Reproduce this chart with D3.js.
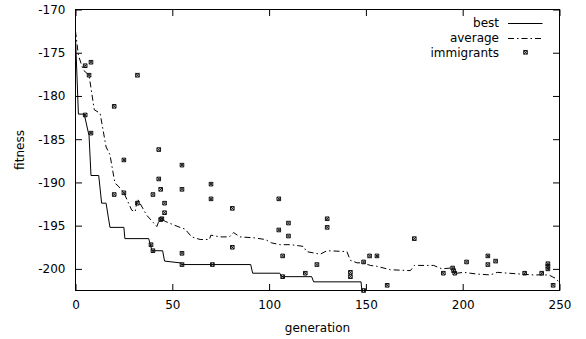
<!DOCTYPE html>
<html>
<head>
<meta charset="utf-8">
<script src="https://cdn.jsdelivr.net/npm/d3@7"></script>
<style>
  body { margin: 0; background: #fff; }
  text { font-family: "DejaVu Sans", sans-serif; fill: #000; }
</style>
</head>
<body>
<div id="chart"></div>
<script>
// best fitness per generation (step-like)
const bestGen = [0, 1.5, 4.5, 7, 8, 12, 13.5, 15.8, 17, 17.8, 25, 25.5, 37.8, 39.5, 45, 46, 54, 55, 90.5, 91.5, 105.5, 106.5, 122, 123, 147.5, 148, 250];
const bestVal = [-173.2, -182.1, -182.1, -184.6, -189.2, -189.2, -192.4, -192.4, -194.1, -195.2, -195.2, -196.5, -196.5, -197.9, -197.9, -199.1, -199.3, -199.5, -199.5, -200.5, -200.5, -200.9, -200.9, -201.5, -201.5, -202.7, -202.7];

// population average
const avgGen = [0, 1.5, 4, 7, 9.7, 12.7, 15.8, 17.8, 19.2, 20.4, 22, 25, 29, 30.8, 32, 36.8, 42, 43.7, 46.3, 50.6, 54, 56.6, 60, 64.4, 69.2, 69.9, 74.7, 79.5, 81.6, 85, 91.9, 98, 101.4, 105.7, 111, 117.8, 119.3, 126.4, 129.9, 140.2, 141.9, 145.4, 148.5, 152.3, 155.7, 162.6, 173, 175, 185, 189.3, 193.6, 197.1, 200.5, 207.4, 214.3, 217.8, 229.8, 236.7, 244.5, 246.2, 248, 250];
const avgVal = [-172.5, -175.3, -177, -177.6, -181.6, -182, -185.9, -186.8, -188.6, -190.1, -190.4, -191.2, -193.2, -193.4, -191.9, -193.8, -195.1, -194.1, -194.5, -194.9, -195.2, -195.4, -196.3, -196.6, -196.6, -196.1, -196.3, -196.3, -195.8, -196.3, -196.4, -196.6, -197, -197.2, -197.2, -197.4, -198, -198.3, -197.9, -198, -199, -199.3, -199.3, -199.6, -199.7, -200.1, -200.2, -199.6, -199.6, -200, -199.9, -200.5, -200.4, -200.6, -200.7, -200.4, -200.6, -200.7, -200.7, -200.9, -201.1, -201.6];

// immigrants
const immGen = [5, 8, 7, 32, 20, 5, 8, 43, 25, 55, 20, 25, 32, 40, 43, 44, 46, 46, 44, 44.6, 55, 55, 55, 39, 40, 70, 70, 81, 81, 70.7, 105, 105, 110, 110, 107, 107, 118.7, 124.7, 130, 130, 142, 142, 148.8, 151.9, 155.7, 161, 148.8, 175, 190, 194.8, 195.3, 195.9, 202, 213, 213, 217, 232, 240.8, 244, 244, 244, 246.7];
const immVal = [-176.5, -176.1, -177.6, -177.6, -181.2, -182.2, -184.3, -186.2, -187.4, -188, -191.4, -191.2, -192.4, -191.4, -189.6, -190.8, -192.4, -193.5, -194.3, -194.2, -190.8, -198.2, -199.5, -197.2, -197.9, -190.2, -191.9, -193, -197.5, -199.5, -191.9, -195.5, -194.7, -196.2, -198.5, -200.9, -200.5, -199.5, -194.2, -195.2, -200.4, -200.9, -199.2, -198.5, -198.5, -201.9, -202.5, -196.5, -200.5, -199.9, -200.2, -200.5, -199.2, -198.5, -199.5, -199.1, -200.5, -200.5, -199.4, -199.7, -200, -201.9];

const xTicks = [0, 50, 100, 150, 200, 250];
const yTicks = [-170, -175, -180, -185, -190, -195, -200];

const width = 586, height = 339;
const margin = {top: 9.5, right: 26.5, bottom: 48.5, left: 75.5};
const chartWidth = width - margin.left - margin.right;
const chartHeight = height - margin.top - margin.bottom;

const svg = d3.select('#chart')
  .append('svg')
  .attr('width', width)
  .attr('height', height);

const chart = svg.append('g')
  .attr('transform', `translate(${margin.left}, ${margin.top})`);

const scaleX = d3.scaleLinear().domain([0, 250]).range([0, chartWidth]);
const scaleY = d3.scaleLinear().domain([-202.5, -170]).range([chartHeight, 0]);

svg.append('defs').append('clipPath')
  .attr('id', 'clip')
  .append('rect')
  .attr('width', chartWidth)
  .attr('height', chartHeight);

// axes, ticks inward and mirrored (plain hyphen for negatives, like gnuplot)
const tickLen = 6.5;
const fmt = d => String(d);
chart.append('g')
  .attr('transform', `translate(0, ${chartHeight})`)
  .call(d3.axisBottom(scaleX).tickValues(xTicks).tickFormat(fmt).tickSizeInner(-tickLen).tickSizeOuter(0).tickPadding(10))
  .call(g => g.select('.domain').remove());
chart.append('g')
  .call(d3.axisTop(scaleX).tickValues(xTicks).tickSizeInner(-tickLen).tickSizeOuter(0).tickFormat(''))
  .call(g => g.select('.domain').remove());
chart.append('g')
  .call(d3.axisLeft(scaleY).tickValues(yTicks).tickFormat(fmt).tickSizeInner(-tickLen).tickSizeOuter(0).tickPadding(10))
  .call(g => g.select('.domain').remove());
chart.append('g')
  .attr('transform', `translate(${chartWidth}, 0)`)
  .call(d3.axisRight(scaleY).tickValues(yTicks).tickSizeInner(-tickLen).tickSizeOuter(0).tickFormat(''))
  .call(g => g.select('.domain').remove());

chart.selectAll('.tick text')
  .style('font-family', '"DejaVu Sans", sans-serif')
  .style('font-size', '12px');
chart.selectAll('.tick line').attr('stroke', '#000');

// lines
const bestData = bestGen.map((g, i) => [g, bestVal[i]]);
const avgData = avgGen.map((g, i) => [g, avgVal[i]]);
const line = d3.line().x(d => scaleX(d[0])).y(d => scaleY(d[1]));

const plot = chart.append('g').attr('clip-path', 'url(#clip)');
plot.append('path')
  .datum(bestData)
  .attr('fill', 'none')
  .attr('stroke', '#000')
  .attr('stroke-width', 1)
  .attr('d', line);
plot.append('path')
  .datum(avgData)
  .attr('fill', 'none')
  .attr('stroke', '#000')
  .attr('stroke-width', 1)
  .attr('stroke-dasharray', '6,3,1.5,3')
  .attr('d', line);

// immigrant markers: boxed x
const marker = (cx, cy) => {
  const s = 1.8;
  return `M${cx - s},${cy - s}h${2 * s}v${2 * s}h${-2 * s}Z` +
    `M${cx - s},${cy - s}L${cx + s},${cy + s}M${cx + s},${cy - s}L${cx - s},${cy + s}`;
};
chart.append('g').selectAll('path')
  .data(immGen.map((g, i) => [g, immVal[i]]))
  .join('path')
  .attr('d', d => marker(scaleX(d[0]), scaleY(d[1])))
  .attr('fill', 'none')
  .attr('stroke', '#111')
  .attr('stroke-width', 1);

// border
chart.append('rect')
  .attr('width', chartWidth)
  .attr('height', chartHeight)
  .attr('fill', 'none')
  .attr('stroke', '#000')
  .attr('stroke-width', 1);

// axis titles
svg.append('text')
  .attr('x', margin.left + chartWidth / 2)
  .attr('y', 332)
  .attr('text-anchor', 'middle')
  .style('font-size', '12px')
  .text('generation');
svg.append('text')
  .attr('transform', `translate(24, ${margin.top + chartHeight / 2}) rotate(-90)`)
  .attr('text-anchor', 'middle')
  .style('font-size', '12px')
  .text('fitness');

// legend
const legend = svg.append('g');
const legendItems = [
  {label: 'best', y: 22.7, type: 'solid'},
  {label: 'average', y: 37.7, type: 'dash'},
  {label: 'immigrants', y: 52.3, type: 'point'}
];
legendItems.forEach(it => {
  legend.append('text')
    .attr('x', 499)
    .attr('y', it.y)
    .attr('dy', '0.35em')
    .attr('text-anchor', 'end')
    .style('font-size', '12px')
    .text(it.label);
  if (it.type === 'point') {
    legend.append('path')
      .attr('d', marker(525.5, it.y))
      .attr('fill', 'none')
      .attr('stroke', '#111')
      .attr('stroke-width', 1);
  } else {
    legend.append('line')
      .attr('x1', 508).attr('x2', 542.5)
      .attr('y1', Math.round(it.y) + 0.5).attr('y2', Math.round(it.y) + 0.5)
      .attr('stroke', '#000')
      .attr('stroke-width', 1)
      .attr('stroke-dasharray', it.type === 'dash' ? '6,3,1.5,3' : null);
  }
});
</script>
</body>
</html>
